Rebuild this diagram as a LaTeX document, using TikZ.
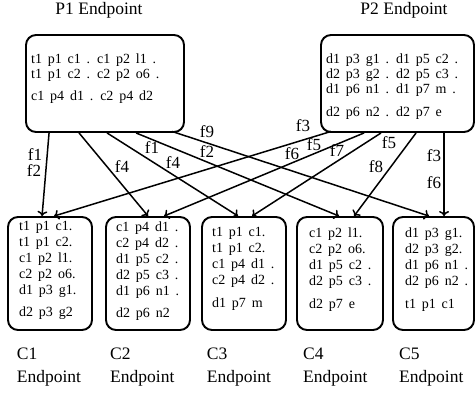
\documentclass[tikz,border=0pt]{standalone}
\usepackage{fontspec}
\setmainfont{Liberation Serif}
\usetikzlibrary{arrows.meta}
\newcommand{\pboxfont}{\fontsize{14}{15}\selectfont\spaceskip 5.8pt\relax}
\newcommand{\cboxfont}{\fontsize{14}{16}\selectfont\spaceskip 5.8pt\relax}

\begin{document}
\begin{tikzpicture}[x=1pt,y=-1pt,
  endbox/.style={draw, line width=1.9pt, rounded corners=10pt, inner sep=0pt},
  pbox/.style={endbox, minimum width=158pt, minimum height=97pt},
  cbox/.style={endbox, minimum width=84pt, minimum height=113pt},
  ptext/.style={anchor=north west, inner sep=0pt, align=left, font=\pboxfont},
  ctext/.style={anchor=north west, inner sep=0pt, align=left, font=\cboxfont},
  title/.style={inner sep=0pt, align=left, font=\fontsize{17.5}{22.7}\selectfont},
  flow/.style={inner sep=0pt, font=\fontsize{17}{19}\selectfont},
  arr/.style={line width=1.5pt, -{To[length=5pt,width=10pt]}}
]
\useasboundingbox (0,0) rectangle (475,394);

% producer endpoints
\node[pbox] (p1) at (105,83.5) {};
\node[pbox, minimum width=153pt] (p2) at (397.5,83.5) {};
\node[ptext] (p1txt) at (31,53.1)
  {t1 p1 c1 . c1 p2 l1 .\\ t1 p1 c2 . c2 p2 o6 .\\[7.7pt] c1 p4 d1 . c2 p4 d2};
\node[ptext] (p2txt) at (326,53.7)
  {d1 p3 g1 . d1 p5 c2 .\\ d2 p3 g2 . d2 p5 c3 .\\ d1 p6 n1 . d1 p7 m .\\[7.7pt] d2 p6 n2 . d2 p7 e};
\node[title, anchor=base] (t1) at (99,14) {P1 Endpoint};
\node[title, anchor=base] (t2) at (404,14) {P2 Endpoint};

% consumer endpoints
\node[cbox] (c1) at (50,273.5) {};
\node[cbox] (c2) at (148,273.5) {};
\node[cbox] (c3) at (244,273.5) {};
\node[cbox, minimum width=86pt] (c4) at (340,273.5) {};
\node[cbox, minimum width=81pt] (c5) at (433.5,273.5) {};

\node[ctext] (c1txt) at (19,221.1)
  {t1 p1 c1.\\ t1 p1 c2.\\ c1 p2 l1.\\ c2 p2 o6.\\ d1 p3 g1.\\[6pt] d2 p3 g2};
\node[ctext] (c2txt) at (116,221.1)
  {c1 p4 d1 .\\ c2 p4 d2 .\\ d1 p5 c2 .\\ d2 p5 c3 .\\ d1 p6 n1 .\\[6pt] d2 p6 n2};
\node[ctext] (c3txt) at (212,227.1)
  {t1 p1 c1.\\ t1 p1 c2.\\ c1 p4 d1 .\\ c2 p4 d2 .\\[7pt] d1 p7 m};
\node[ctext] (c4txt) at (309,227.1)
  {c1 p2 l1.\\ c2 p2 o6.\\ d1 p5 c2 .\\ d2 p5 c3 .\\[7pt] d2 p7 e};
\node[ctext] (c5txt) at (405,227.1)
  {d1 p3 g1.\\ d2 p3 g2.\\ d1 p6 n1 .\\ d2 p6 n2 .\\[7pt] t1 p1 c1};

\node[title, anchor=north west] (e1) at (16.7,348) {C1\\Endpoint};
\node[title, anchor=north west] (e2) at (110,348) {C2\\Endpoint};
\node[title, anchor=north west] (e3) at (206.7,348) {C3\\Endpoint};
\node[title, anchor=north west] (e4) at (303,348) {C4\\Endpoint};
\node[title, anchor=north west] (e5) at (399,348) {C5\\Endpoint};

% flows from P1
\draw[arr] ([xshift=24]p1.south west) -- ([xshift=35]c1.north west);
\draw[arr] ([xshift=54]p1.south west) -- ([xshift=43]c2.north west);
\draw[arr] ([xshift=82]p1.south west) -- ([xshift=37]c3.north west);
\draw[arr] ([xshift=111]p1.south west) -- ([xshift=43]c4.north west);
\draw[arr] ([xshift=147,yshift=1.5]p1.south west) -- ([xshift=37]c5.north west);

% flows from P2
\draw[arr] ([xshift=11,yshift=1.5]p2.south west) -- ([xshift=47]c1.north west);
\draw[arr] ([xshift=44]p2.south west) -- ([xshift=59]c2.north west);
\draw[arr] ([xshift=61]p2.south west) -- ([xshift=51]c3.north west);
\draw[arr] ([xshift=96]p2.south west) -- ([xshift=58]c4.north west);
\draw[arr] ([xshift=124]p2.south west) -- ([xshift=52]c5.north west);

% flow labels
\node[flow] (fa) at (35,155) {f1};
\node[flow] (fb) at (34,171) {f2};
\node[flow] (fc) at (122,167) {f4};
\node[flow] (fd) at (152,148) {f1};
\node[flow] (fe) at (173,163) {f4};
\node[flow] (ff) at (207,132) {f9};
\node[flow] (fg) at (207,152) {f2};
\node[flow] (fh) at (303,126) {f3};
\node[flow] (fi) at (292,154) {f6};
\node[flow] (fj) at (314,145) {f5};
\node[flow] (fk) at (337,151) {f7};
\node[flow] (fl) at (389,143) {f5};
\node[flow] (fm) at (376,167) {f8};
\node[flow] (fn) at (434,156) {f3};
\node[flow] (fo) at (434,183) {f6};
\end{tikzpicture}
\end{document}
